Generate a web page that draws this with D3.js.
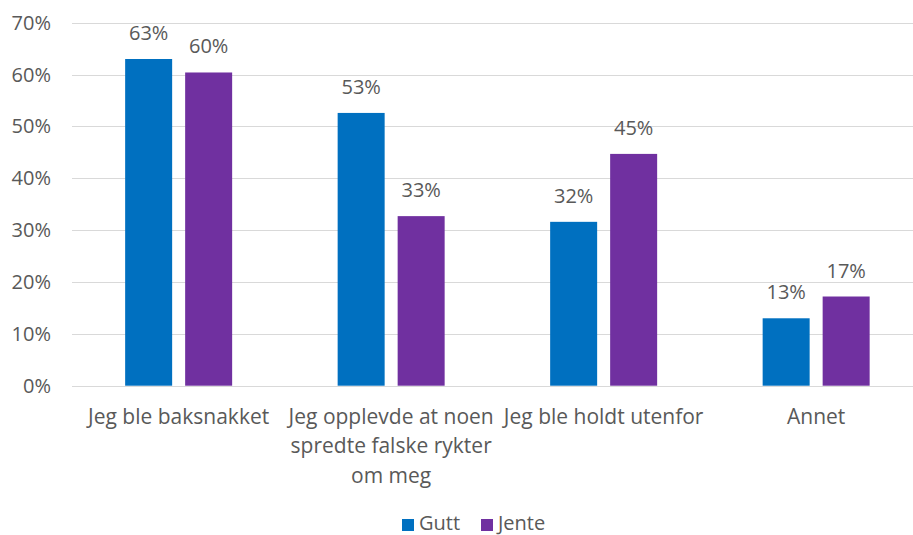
<!DOCTYPE html>
<meta charset="utf-8">
<style>
  body {
    margin: 0;
    background: #fff;
  }

  svg text {
    font-family: "Open Sans", Lato, sans-serif;
    fill: #595959;
  }

  .grid line {
    stroke: #d9d9d9;
    stroke-width: 1;
  }
</style>
<body>
  <div id="chart"></div>
  <script src="https://d3js.org/d3.v7.min.js"></script>
  <script>

// data
var categories = [
  ["Jeg ble baksnakket"],
  ["Jeg opplevde at noen", "spredte falske rykter", "om meg"],
  ["Jeg ble holdt utenfor"],
  ["Annet"]
];
var series = ["Gutt", "Jente"];
var gutt = [63.0, 52.6, 31.6, 13.0];
var jente = [60.4, 32.7, 44.7, 17.2];
var yTicks = [0, 10, 20, 30, 40, 50, 60, 70];
var colors = ["#0070c0", "#7030a0"];

var width = 913,
    height = 535;

var svg = d3.select("#chart")
  .append("svg")
  .attr("width", width)
  .attr("height", height);

var y = d3.scaleLinear()
  .domain([0, 70])
  .range([385.7, 22.7]);

var x0 = d3.scaleBand()
  .domain(d3.range(categories.length))
  .range([72.4, 922.4]);

var bw = x0.bandwidth();

var x1 = d3.scaleBand()
  .domain(series)
  .range([bw / 2 - 53.5, bw / 2 + 53.5])
  .paddingInner(13 / 60);

var color = d3.scaleOrdinal().domain(series).range(colors);

// gridlines
svg.append("g")
  .attr("class", "grid")
  .selectAll("line")
  .data(yTicks)
  .enter().append("line")
  .attr("x1", 72)
  .attr("x2", width)
  .attr("y1", function(d) { return Math.round(y(d)) + 0.5; })
  .attr("y2", function(d) { return Math.round(y(d)) + 0.5; });

// y labels
svg.append("g")
  .selectAll("text")
  .data(yTicks)
  .enter().append("text")
  .attr("x", 51)
  .attr("y", function(d) { return y(d); })
  .attr("dy", "0.35em")
  .attr("text-anchor", "end")
  .style("font-size", "20px")
  .text(function(d) { return d + "%"; });

var rows = categories.map(function(c, i) {
  return [
    { key: "Gutt", value: gutt[i] },
    { key: "Jente", value: jente[i] }
  ];
});

var group = svg.selectAll(".cat")
  .data(rows)
  .enter().append("g")
  .attr("class", "cat")
  .attr("transform", function(d, i) { return "translate(" + x0(i) + ",0)"; });

group.selectAll("rect")
  .data(function(d) { return d; })
  .enter().append("rect")
  .attr("x", function(d) { return x1(d.key); })
  .attr("width", x1.bandwidth())
  .attr("y", function(d) { return y(d.value); })
  .attr("height", function(d) { return y(0) - y(d.value); })
  .attr("fill", function(d) { return color(d.key); });

group.selectAll(".val")
  .data(function(d) { return d; })
  .enter().append("text")
  .attr("class", "val")
  .attr("x", function(d) { return x1(d.key) + x1.bandwidth() / 2; })
  .attr("y", function(d) { return y(d.value) - 19; })
  .attr("text-anchor", "middle")
  .style("font-size", "20px")
  .text(function(d) { return Math.round(d.value) + "%"; });

// category labels
svg.append("g")
  .selectAll("text")
  .data(categories)
  .enter().append("text")
  .attr("x", function(d, i) { return x0(i) + bw / 2; })
  .attr("y", 423.5)
  .attr("text-anchor", "middle")
  .style("font-size", "21px")
  .each(function(lines) {
    var t = d3.select(this);
    lines.forEach(function(line, j) {
      t.append("tspan")
        .attr("x", t.attr("x"))
        .attr("dy", j === 0 ? 0 : 29.5)
        .text(line);
    });
  });

// legend
var legend = svg.append("g")
  .attr("transform", "translate(402,517)");

var items = legend.selectAll("g")
  .data(series)
  .enter().append("g")
  .attr("transform", function(d, i) { return "translate(" + (i * 79) + ",0)"; });

items.append("rect")
  .attr("width", 12)
  .attr("height", 12)
  .attr("y", 2)
  .attr("fill", function(d) { return color(d); });

items.append("text")
  .attr("x", 17)
  .attr("y", 13)
  .style("font-size", "20px")
  .text(function(d) { return d; });

  </script>
</body>
